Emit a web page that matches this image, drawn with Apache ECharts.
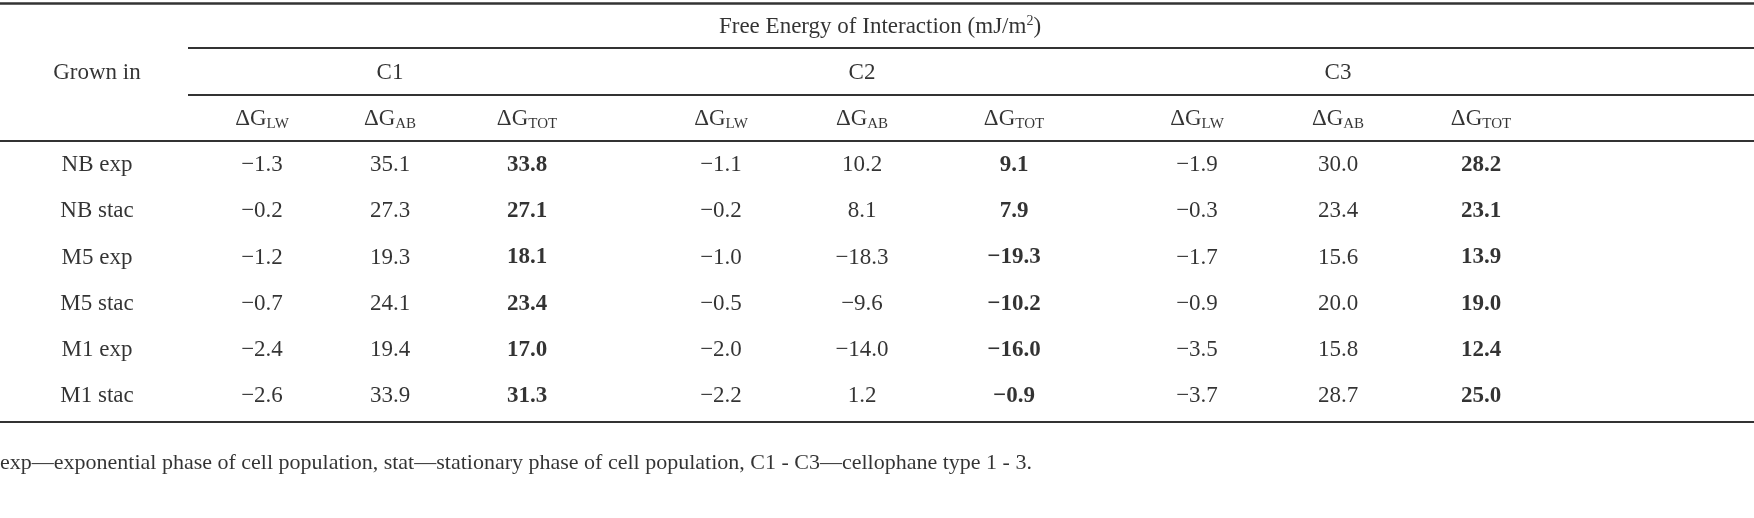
<!DOCTYPE html>
<html>
<head>
<meta charset="utf-8">
<script src="https://cdn.jsdelivr.net/npm/echarts@6/dist/echarts.min.js"></script>
<style>
  html, body { margin: 0; padding: 0; background: #fff; }
  #main { width: 1754px; height: 518px; }
</style>
</head>
<body>
<div id="main"></div>
<script>
// table content
var rowNames = ['NB exp', 'NB stac', 'M5 exp', 'M5 stac', 'M1 exp', 'M1 stac'];
var groupNames = ['C1', 'C2', 'C3'];
var colKeys = ['LW', 'AB', 'TOT'];
var title = 'Free Energy of Interaction';
var rowHead = 'Grown in';
var footnote = 'exp\u2014exponential phase of cell population, stat\u2014stationary phase of cell population, C1 - C3\u2014cellophane type 1 - 3.';

var c1LW  = [-1.3, -0.2, -1.2, -0.7, -2.4, -2.6];
var c1AB  = [35.1, 27.3, 19.3, 24.1, 19.4, 33.9];
var c1TOT = [33.8, 27.1, 18.1, 23.4, 17.0, 31.3];
var c2LW  = [-1.1, -0.2, -1.0, -0.5, -2.0, -2.2];
var c2AB  = [10.2, 8.1, -18.3, -9.6, -14.0, 1.2];
var c2TOT = [9.1, 7.9, -19.3, -10.2, -16.0, -0.9];
var c3LW  = [-1.9, -0.3, -1.7, -0.9, -3.5, -3.7];
var c3AB  = [30.0, 23.4, 15.6, 20.0, 15.8, 28.7];
var c3TOT = [28.2, 23.1, 13.9, 19.0, 12.4, 25.0];

var columns = [c1LW, c1AB, c1TOT, c2LW, c2AB, c2TOT, c3LW, c3AB, c3TOT];

// layout (pixel units on both axes)
var colX = [262, 390, 527, 721, 862, 1014, 1197, 1338, 1481];
var rowLabelX = 97;
var titleX = 880;
var rowTop = 27;
var rowStep = 46.1;
var footY = 463;
var font = 'Liberation Serif';
var fs = 23;
var ink = '#000';

function rowY(i) { return rowTop + i * rowStep; }
function fmt(v) { return v.toFixed(1).replace('-', '\u2212'); }

var cells = [];
function cell(x, y, text, extra) {
  var item = { value: [x, y], label: { formatter: text } };
  if (extra) for (var k in extra) item.label[k] = extra[k];
  cells.push(item);
}

cell(titleX, rowY(0), title + ' (mJ/m{sup|2})');
cell(rowLabelX, rowY(1), rowHead);
groupNames.forEach(function (g, gi) {
  cell(colX[gi * 3 + 1], rowY(1), g);
  colKeys.forEach(function (k, ki) {
    cell(colX[gi * 3 + ki], rowY(2), '\u0394G{sub|' + k + '}');
  });
});
rowNames.forEach(function (r, ri) {
  cell(rowLabelX, rowY(3 + ri), r);
  columns.forEach(function (col, ci) {
    cell(colX[ci], rowY(3 + ri), fmt(col[ri]), ci % 3 === 2 ? { fontWeight: 'bold' } : null);
  });
});
cell(0, footY, footnote, { align: 'left', fontSize: 22 });

var ruleColor = '#333';
function rule(y, x0, x1, w) {
  return [{ coord: [x0, y], lineStyle: { width: w || 2 } }, { coord: [x1, y] }];
}

var chart = echarts.init(document.getElementById('main'));
chart.setOption({
  backgroundColor: '#fff',
  animation: false,
  grid: { left: 0, right: 0, top: 0, bottom: 0 },
  xAxis: { type: 'value', min: 0, max: 1754, show: false },
  yAxis: { type: 'value', min: 0, max: 518, inverse: true, show: false },
  series: [{
    type: 'scatter',
    symbolSize: 0,
    silent: true,
    label: {
      show: true,
      position: 'inside',
      color: ink,
      fontFamily: font,
      fontSize: fs,
      rich: {
        sub: { fontFamily: font, fontSize: 15, color: ink, padding: [10, 0, 0, 0] },
        sup: { fontFamily: font, fontSize: 14, color: ink, padding: [0, 0, 11, 0] }
      }
    },
    data: cells,
    markLine: {
      silent: true,
      symbol: 'none',
      label: { show: false },
      lineStyle: { color: ruleColor, type: 'solid', width: 2 },
      data: [
        rule(3, 0, 1754, 2.5),
        rule(48, 188, 1754),
        rule(95, 188, 1754),
        rule(141, 0, 1754),
        rule(422, 0, 1754)
      ]
    }
  }]
});
</script>
</body>
</html>
